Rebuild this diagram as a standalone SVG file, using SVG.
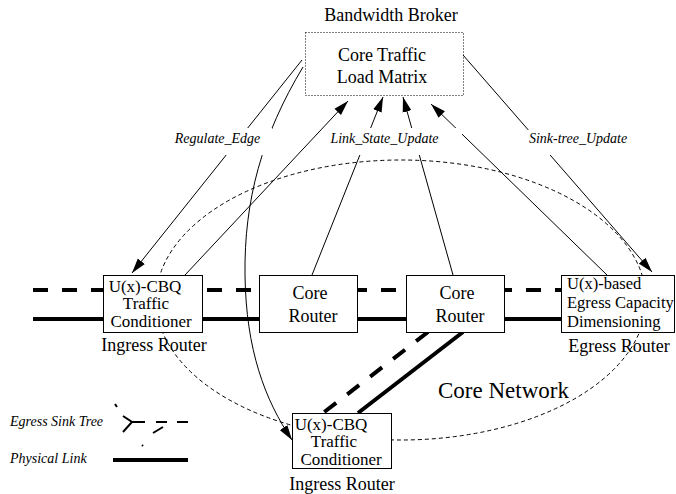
<svg xmlns="http://www.w3.org/2000/svg" width="676" height="494" viewBox="0 0 676 494">
<defs>
<marker id="ah" markerWidth="16" markerHeight="10" refX="15" refY="5" orient="auto" markerUnits="userSpaceOnUse"><path d="M0,0.5 L15,5 L0,9.5 z" fill="#000"/></marker>
</defs>
<style>
text{font-family:"Liberation Serif","Times New Roman",serif;fill:#000}
.t{font-size:18px}
.s{font-size:17px}
.e{font-size:16.5px}
.big{font-size:23px}
.lbl{font-size:14px;font-style:italic}
.box{fill:#fff;stroke:#000;stroke-width:1}
.broker{fill:#fff;stroke:#000;stroke-width:1;stroke-dasharray:1,2}
.conn{fill:none;stroke:#000;stroke-width:1}
.thick{stroke:#000;stroke-width:4;fill:none}
.dash{stroke-dasharray:15,14}
.leg{stroke:#000;stroke-width:2;fill:none}
.net{fill:none;stroke:#000;stroke-width:1;stroke-dasharray:4,3}
.bg{fill:#fff}
</style>
<rect width="676" height="494" fill="#fff"/>

<g id="core-network">
<ellipse class="net" cx="401" cy="300" rx="245" ry="140"/>
<text class="big" x="438" y="398">Core Network</text>
</g>

<g id="links">
<line class="thick dash" x1="33" y1="290" x2="561" y2="290"/>
<line class="thick" x1="33" y1="319" x2="561" y2="319"/>
<line class="thick dash" x1="428" y1="332" x2="323" y2="413"/>
<line class="thick" x1="463" y1="332" x2="358" y2="413"/>
</g>

<g id="broker">
<text class="t" x="391" y="21" text-anchor="middle">Bandwidth Broker</text>
<rect class="broker" x="305.5" y="32.5" width="158" height="63"/>
<text class="t" x="382" y="61" text-anchor="middle">Core Traffic</text>
<text class="t" x="382" y="83" text-anchor="middle">Load Matrix</text>
</g>

<g id="ingress-left">
<rect class="box" x="103.5" y="275.5" width="99" height="57"/>
<text class="s" x="145" y="291.5" text-anchor="middle">U(x)-CBQ</text>
<text class="s" x="146" y="309" text-anchor="middle">Traffic</text>
<text class="s" x="151" y="326.5" text-anchor="middle">Conditioner</text>
<text class="t" x="154" y="351" text-anchor="middle">Ingress Router</text>
</g>

<g id="core-router-1">
<rect class="box" x="259.5" y="275.5" width="98" height="57"/>
<text class="t" x="310" y="299" text-anchor="middle">Core</text>
<text class="t" x="313" y="322" text-anchor="middle">Router</text>
</g>

<g id="core-router-2">
<rect class="box" x="406.5" y="275.5" width="98" height="57"/>
<text class="t" x="457" y="299" text-anchor="middle">Core</text>
<text class="t" x="460" y="322" text-anchor="middle">Router</text>
</g>

<g id="egress">
<rect class="box" x="561.5" y="275.5" width="113" height="57"/>
<text class="e" x="567" y="289">U(x)-based</text>
<text class="e" x="567" y="308">Egress Capacity</text>
<text class="e" x="567" y="327">Dimensioning</text>
<text class="t" x="619" y="352" text-anchor="middle">Egress Router</text>
</g>

<g id="ingress-bottom">
<rect class="box" x="292.5" y="413.5" width="99" height="55"/>
<text class="s" x="331" y="429.5" text-anchor="middle">U(x)-CBQ</text>
<text class="s" x="334" y="447" text-anchor="middle">Traffic</text>
<text class="s" x="341" y="464.5" text-anchor="middle">Conditioner</text>
<text class="t" x="342" y="490" text-anchor="middle">Ingress Router</text>
</g>

<g id="connectors">
<line class="conn" x1="302" y1="60" x2="132" y2="273" marker-end="url(#ah)"/>
<path class="conn" d="M303,67 C262,135 244,200 245,275 S265,400 292,440" marker-end="url(#ah)"/>
<line class="conn" x1="185" y1="275" x2="348" y2="101" marker-end="url(#ah)"/>
<line class="conn" x1="312" y1="275" x2="383" y2="97" marker-end="url(#ah)"/>
<line class="conn" x1="453" y1="275" x2="403" y2="97" marker-end="url(#ah)"/>
<line class="conn" x1="607" y1="275" x2="431" y2="104" marker-end="url(#ah)"/>
<line class="conn" x1="463" y1="55" x2="652" y2="272" marker-end="url(#ah)"/>
</g>

<g id="labels">
<rect class="bg" x="172" y="128" width="100" height="27"/>
<text class="lbl" x="217.5" y="143" text-anchor="middle">Regulate_Edge</text>
<rect class="bg" x="328" y="128" width="134" height="27"/>
<text class="lbl" x="384.5" y="143" text-anchor="middle">Link_State_Update</text>
<rect class="bg" x="526" y="130" width="104" height="25"/>
<text class="lbl" x="578" y="143" text-anchor="middle">Sink-tree_Update</text>
</g>

<g id="legend">
<text class="lbl" x="10" y="426">Egress Sink Tree</text>
<path class="leg" d="M115,404 L117,407 M123,416 L132,422 L123,432 M132,422 L145,422 M156,422 L167,422 M177,422 L188,422 M153,433 L163,427 M142,445 L143,446"/>
<text class="lbl" x="10" y="463">Physical Link</text>
<line class="thick" x1="113" y1="460" x2="188" y2="460"/>
</g>
</svg>
